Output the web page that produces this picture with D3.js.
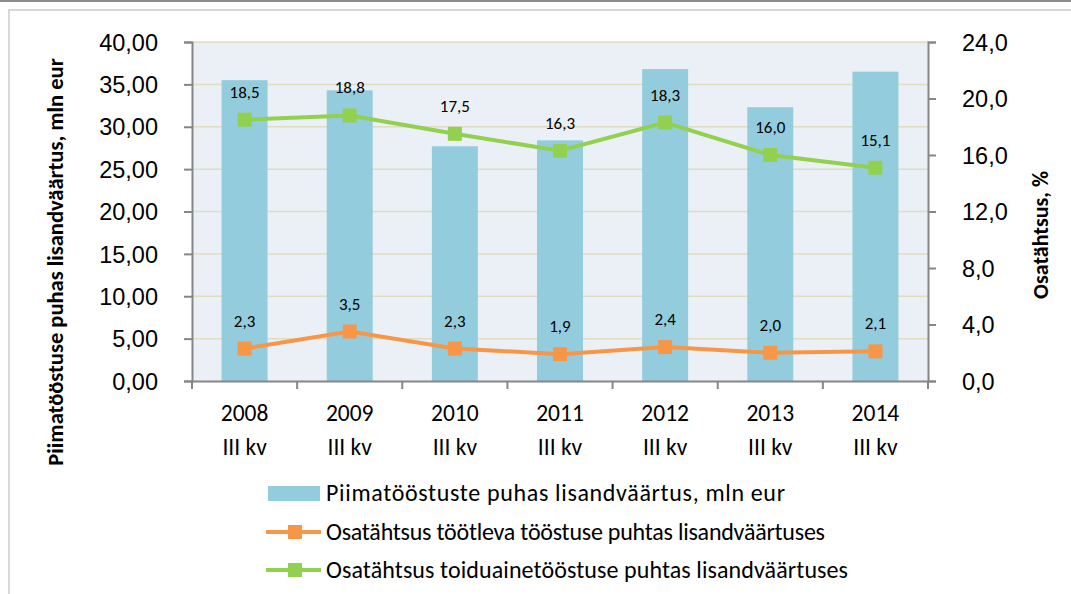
<!DOCTYPE html>
<html>
<head>
<meta charset="utf-8">
<script src="https://cdn.jsdelivr.net/npm/d3@7"></script>
<style>
	body { margin: 0; background: #fff; }
	svg { display: block; font-family: Carlito, Lato, "Open Sans", sans-serif; }
</style>
</head>
<body>
<svg width="1071" height="594"></svg>
<script>
var years = ["2008", "2009", "2010", "2011", "2012", "2013", "2014"];
var quarter = "III kv";
var barValues = [35.5, 34.3, 27.7, 28.4, 36.8, 32.3, 36.5];
var orangeValues = [2.3, 3.5, 2.3, 1.9, 2.4, 2.0, 2.1];
var greenValues = [18.5, 18.8, 17.5, 16.3, 18.3, 16.0, 15.1];
var leftTicks = [0, 5, 10, 15, 20, 25, 30, 35, 40];
var rightTicks = [0, 4, 8, 12, 16, 20, 24];
var legendNames = ["Piimatööstuste puhas lisandväärtus, mln eur",
	"Osatähtsus töötleva tööstuse puhtas lisandväärtuses",
	"Osatähtsus toiduainetööstuse puhtas lisandväärtuses"];
var legendWidths = [459, 499, 522];

var svg = d3.select("svg"),
	pLeft = 192, pRight = 928, pTop = 42, pBottom = 381;

var fmt2 = function(d) { return d3.format(".2f")(d).replace(".", ","); };
var fmt1 = function(d) { return d3.format(".1f")(d).replace(".", ","); };

// frame
svg.append("line").attr("x1", 0).attr("x2", 1071).attr("y1", 1).attr("y2", 1)
	.attr("stroke", "#8c8c8c").attr("stroke-width", 2);
svg.append("path").attr("d", "M9,594V10H1071").attr("fill", "none")
	.attr("stroke", "#d9d9d9").attr("stroke-width", 2);

var x = d3.scaleBand().domain(years).range([pLeft, pRight]);
var yL = d3.scaleLinear().domain([0, 40]).range([pBottom, pTop]);
var yR = d3.scaleLinear().domain([0, 24]).range([pBottom, pTop]);

svg.append("rect").attr("x", pLeft).attr("y", pTop)
	.attr("width", pRight - pLeft).attr("height", pBottom - pTop).attr("fill", "#ebf0f7");

svg.append("g").selectAll("line").data(leftTicks.slice(1)).enter().append("line")
	.attr("x1", pLeft).attr("x2", pRight)
	.attr("y1", function(d) { return yL(d); }).attr("y2", function(d) { return yL(d); })
	.attr("stroke", "#e0dcc0").attr("stroke-width", 1.5);

var barW = 46;
svg.append("g").selectAll("rect").data(barValues).enter().append("rect")
	.attr("x", function(d, i) { return x(years[i]) + x.bandwidth() / 2 - barW / 2; })
	.attr("y", function(d) { return yL(d); })
	.attr("width", barW)
	.attr("height", function(d) { return pBottom - yL(d); })
	.attr("fill", "#93cddd");

// axes
var axL = svg.append("g").attr("transform", "translate(" + pLeft + ",0)")
	.call(d3.axisLeft(yL).tickValues(leftTicks).tickFormat(fmt2).tickSizeOuter(0).tickSize(8).tickPadding(26));
var axR = svg.append("g").attr("transform", "translate(" + pRight + ",0)")
	.call(d3.axisRight(yR).tickValues(rightTicks).tickFormat(fmt1).tickSizeOuter(0).tickSize(8).tickPadding(26));
var axB = svg.append("g").attr("transform", "translate(0," + pBottom + ")")
	.call(d3.axisBottom(x).tickSize(0).tickFormat(""));
[axL, axR, axB].forEach(function(a) {
	a.selectAll("path, line").attr("stroke", "#868686").attr("stroke-width", 2);
	a.selectAll("text").attr("font-size", 23.5).attr("fill", "#000").attr("font-family", null);
});
axL.selectAll("text").attr("dy", "0.35em");
axR.selectAll("text").attr("dy", "0.35em");

// category separator ticks
svg.append("g").selectAll("line").data(d3.range(years.length + 1)).enter().append("line")
	.attr("x1", function(i) { return pLeft + i * x.step(); })
	.attr("x2", function(i) { return pLeft + i * x.step(); })
	.attr("y1", pBottom).attr("y2", pBottom + 8)
	.attr("stroke", "#868686").attr("stroke-width", 2);

var xl = svg.append("g").selectAll("text").data(years).enter().append("text")
	.attr("text-anchor", "middle").attr("font-size", 23.5);
xl.append("tspan").attr("x", function(d) { return x(d) + x.bandwidth() / 2; }).attr("y", 421).text(function(d) { return d; });
xl.append("tspan").attr("x", function(d) { return x(d) + x.bandwidth() / 2; }).attr("y", 455).text(quarter);

// lines
function drawSeries(vals, color) {
	var line = d3.line()
		.x(function(d, i) { return x(years[i]) + x.bandwidth() / 2; })
		.y(function(d) { return yR(d); });
	svg.append("path").datum(vals).attr("d", line)
		.attr("fill", "none").attr("stroke", color).attr("stroke-width", 4);
	svg.append("g").selectAll("rect").data(vals).enter().append("rect")
		.attr("x", function(d, i) { return x(years[i]) + x.bandwidth() / 2 - 7; })
		.attr("y", function(d) { return yR(d) - 7; })
		.attr("width", 14).attr("height", 14).attr("fill", color);
	svg.append("g").selectAll("text").data(vals).enter().append("text")
		.attr("x", function(d, i) { return x(years[i]) + x.bandwidth() / 2; })
		.attr("y", function(d) { return yR(d) - 22; })
		.attr("text-anchor", "middle").attr("font-size", 17)
		.text(fmt1);
}
drawSeries(orangeValues, "#f79646");
drawSeries(greenValues, "#92d050");

// axis titles
svg.append("text").attr("transform", "translate(63,262) rotate(-90)")
	.attr("text-anchor", "middle").attr("font-size", 22.5).attr("font-weight", "bold")
	.text("Piimatööstuse puhas lisandväärtus, mln eur");
svg.append("text").attr("transform", "translate(1048,235) rotate(-90)")
	.attr("text-anchor", "middle").attr("font-size", 22).attr("font-weight", "bold")
	.text("Osatähtsus, %");

// legend
var lg = svg.append("g");
lg.append("rect").attr("x", 268).attr("y", 486).attr("width", 52).attr("height", 15).attr("fill", "#93cddd");
[["#f79646", 532], ["#92d050", 570]].forEach(function(s) {
	lg.append("line").attr("x1", 266).attr("x2", 321).attr("y1", s[1]).attr("y2", s[1])
		.attr("stroke", s[0]).attr("stroke-width", 4);
	lg.append("rect").attr("x", 288).attr("y", s[1] - 7).attr("width", 14).attr("height", 14).attr("fill", s[0]);
});
lg.selectAll("text.l").data(legendNames).enter().append("text")
	.attr("x", 326).attr("y", function(d, i) { return [493, 532, 570][i]; })
	.attr("dy", "0.35em").attr("font-size", 24)
	.attr("textLength", function(d, i) { return legendWidths[i]; }).attr("lengthAdjust", "spacing")
	.text(function(d) { return d; });
</script>
</body>
</html>
